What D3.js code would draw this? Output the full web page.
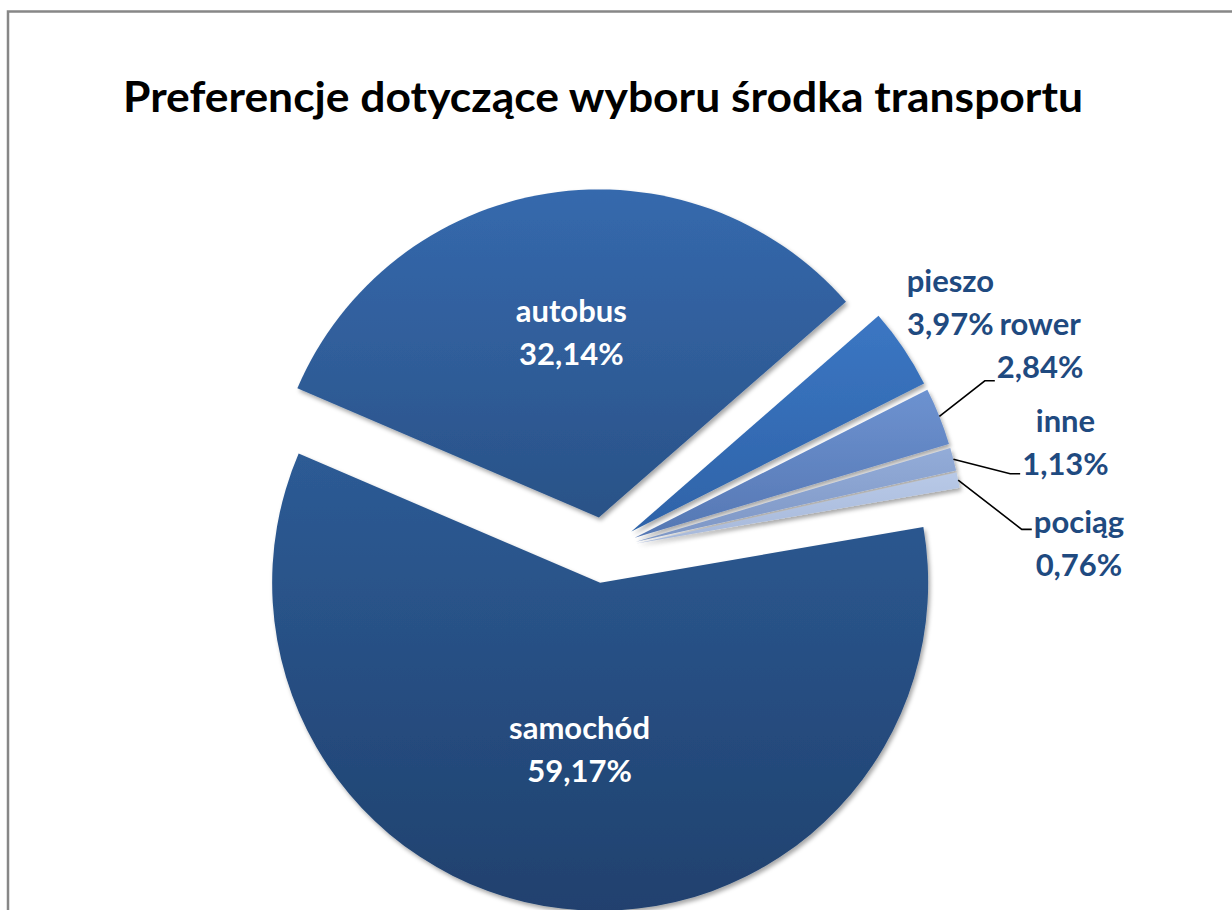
<!DOCTYPE html>
<html>
<head>
<meta charset="utf-8">
<script src="https://cdn.jsdelivr.net/npm/d3@7"></script>
<style>
  html, body { margin: 0; padding: 0; background: #fff; }
  svg { display: block; }
</style>
</head>
<body>
<script>
// chart data
var categories = ['samochód', 'autobus', 'pieszo', 'rower', 'inne', 'pociąg'];
var values = [59.17, 32.14, 3.97, 2.84, 1.13, 0.76];
var title = 'Preferencje dotyczące wyboru środka transportu';

// slice colours: top and bottom of the vertical gradient
var colorsTop = ['#2d5b95', '#3569ad', '#3b76c3', '#6d92d0', '#93acd8', '#b8c9e7'];
var colorsBottom = ['#20416e', '#2a5287', '#2e63a8', '#5577b3', '#7d96c5', '#a6b8da'];

// which slices get their label outside, and where (angle in degrees, distance from pie centre)
var outsideLabels = {
  'pieszo': { angle: 54.4, radius: 426 },
  'rower': { angle: 64.8, radius: 482, leaderDy: 36 },
  'inne': { angle: 76.8, radius: 474, leaderDy: 32 },
  'pociąg': { angle: 89.2, radius: 475, leaderDy: -14 }
};

function formatPct(v) {
  return d3.format('.2f')(v).replace('.', ',') + '%';
}

function rad(deg) { return deg * Math.PI / 180; }

function drawChart() {
  var width = 1232;
  var height = 910;
  var cx = 604;
  var cy = 550;
  var radius = 328;
  var explode = 33;
  var startAngle = rad(80.2);

  var svg = d3.select('body')
    .append('svg')
    .attr('width', width)
    .attr('height', height);

  var defs = svg.append('defs');

  // soft shadow like the spreadsheet chart
  var shadow = defs.append('filter')
    .attr('id', 'shadow')
    .attr('x', '-10%').attr('y', '-10%')
    .attr('width', '130%').attr('height', '130%');
  shadow.append('feDropShadow')
    .attr('dx', 2).attr('dy', 3)
    .attr('stdDeviation', 2.2)
    .attr('flood-color', '#000')
    .attr('flood-opacity', 0.35);

  categories.forEach(function (c, i) {
    var g = defs.append('linearGradient')
      .attr('id', 'grad-' + i)
      .attr('x1', 0).attr('y1', 0)
      .attr('x2', 0).attr('y2', 1);
    g.append('stop').attr('offset', '0%').attr('stop-color', colorsTop[i]);
    g.append('stop').attr('offset', '100%').attr('stop-color', colorsBottom[i]);
  });

  // chart frame (only the top and left edges are inside the picture)
  svg.append('rect')
    .attr('x', 8)
    .attr('y', 11.5)
    .attr('width', width + 20)
    .attr('height', height + 20)
    .attr('fill', 'none')
    .attr('stroke', '#878787')
    .attr('stroke-width', 2.5);

  // title
  svg.append('text')
    .attr('x', 603)
    .attr('y', 112)
    .attr('text-anchor', 'middle')
    .attr('font-family', 'Lato, "Open Sans", sans-serif')
    .attr('font-weight', 700)
    .attr('font-size', 42)
    .attr('textLength', 960)
    .attr('lengthAdjust', 'spacingAndGlyphs')
    .attr('fill', '#000')
    .text(title);

  var data = categories.map(function (c, i) {
    return { name: c, value: values[i], index: i };
  });

  var pie = d3.pie()
    .sort(null)
    .value(function (d) { return d.value; })
    .startAngle(startAngle)
    .endAngle(startAngle + 2 * Math.PI);

  var arcs = pie(data);

  var arc = d3.arc()
    .innerRadius(0)
    .outerRadius(radius);

  var labelArc = d3.arc()
    .innerRadius(radius * 0.54)
    .outerRadius(radius * 0.54);

  function offset(d) {
    var mid = (d.startAngle + d.endAngle) / 2;
    return d3.pointRadial(mid, explode);
  }

  var pieG = svg.append('g')
    .attr('transform', 'translate(' + cx + ',' + cy + ')');

  pieG.selectAll('path.slice')
    .data(arcs)
    .enter()
    .append('path')
    .attr('class', 'slice')
    .attr('transform', function (d) {
      var o = offset(d);
      return 'translate(' + o[0] + ',' + o[1] + ')';
    })
    .attr('d', arc)
    .attr('fill', function (d) { return 'url(#grad-' + d.data.index + ')'; })
    .attr('filter', 'url(#shadow)');

  var font = 'Lato, "Open Sans", sans-serif';
  var fontSize = 31;
  var lineGap = 43;

  // inside labels
  arcs.filter(function (d) { return !outsideLabels[d.data.name]; })
    .forEach(function (d) {
      var o = offset(d);
      var c = labelArc.centroid(d);
      var x = c[0] + o[0];
      var y = c[1] + o[1];
      var t = pieG.append('text')
        .attr('text-anchor', 'middle')
        .attr('font-family', font)
        .attr('font-weight', 700)
        .attr('font-size', fontSize)
        .attr('fill', '#fff');
      t.append('tspan').attr('x', x).attr('y', y - 20).text(d.data.name);
      t.append('tspan').attr('x', x).attr('y', y - 20 + lineGap).text(formatPct(d.data.value));
    });

  // outside labels with leader lines
  arcs.filter(function (d) { return outsideLabels[d.data.name]; })
    .forEach(function (d) {
      var p = outsideLabels[d.data.name];
      var pos = d3.pointRadial(rad(p.angle), p.radius);
      var t = pieG.append('text')
        .attr('text-anchor', 'middle')
        .attr('font-family', font)
        .attr('font-weight', 700)
        .attr('font-size', fontSize)
        .attr('fill', '#1f4a80');
      t.append('tspan').attr('x', pos[0]).attr('y', pos[1] - 10).text(d.data.name);
      t.append('tspan').attr('x', pos[0]).attr('y', pos[1] - 10 + lineGap).text(formatPct(d.data.value));

      if (p.leaderDy !== undefined) {
        var bb = t.node().getBBox();
        var o = offset(d);
        var mid = (d.startAngle + d.endAngle) / 2;
        var edge = d3.pointRadial(mid, radius);
        var sx = edge[0] + o[0];
        var sy = edge[1] + o[1];
        var ex = bb.x - 2;
        var ey = pos[1] + p.leaderDy;
        pieG.append('polyline')
          .attr('points', [[sx, sy], [ex - 10, ey], [ex, ey]].map(function (q) { return q.join(','); }).join(' '))
          .attr('fill', 'none')
          .attr('stroke', '#000')
          .attr('stroke-width', 1.6);
      }
    });
}

drawChart();
</script>
</body>
</html>
